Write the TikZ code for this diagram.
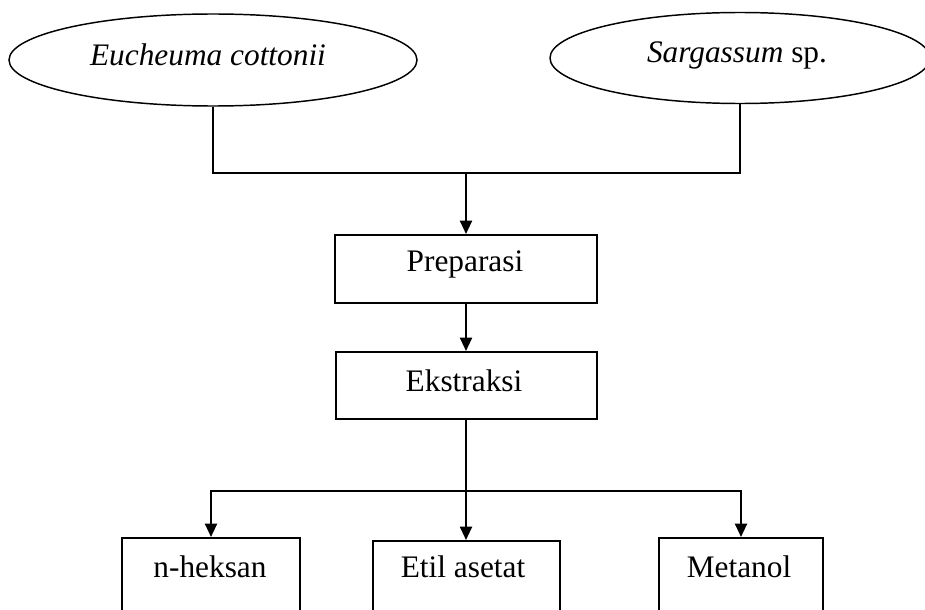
\documentclass[tikz,border=0pt]{standalone}
\usepackage{fontspec}
\setmainfont{Liberation Serif}
\usetikzlibrary{shapes.geometric,arrows.meta}
\begin{document}
\begin{tikzpicture}[x=0.75pt,y=-0.75pt,
  txt/.style={font=\fontsize{23.5}{28}\selectfont,inner sep=0pt,anchor=base},
  oval/.style={draw,ellipse,line width=1.1pt,inner sep=0pt},
  box/.style={draw,rectangle,line width=1.5pt,inner sep=0pt},
  conn/.style={line width=1.5pt},
  arr/.style={conn,-{Triangle[width=9pt,length=10pt]}}]
\useasboundingbox (0,0) rectangle (925,610);
\clip (0,0) rectangle (925,610);
% top ellipses
\node[oval, minimum width=306pt, minimum height=69pt] (ec) at (213,60) {};
\node[oval, minimum width=285pt, minimum height=68.25pt] (sg) at (740,58) {};
\node[txt] (ect) at (208,65) {\itshape Eucheuma cottonii};
\node[txt] (sgt) at (737,63) {\textit{Sargassum} sp.};
% process boxes
\node[box, minimum width=196.5pt, minimum height=51pt] (prep) at (466,269) {};
\node[txt] (prept) at (465,271) {Preparasi};
\node[box, minimum width=195.75pt, minimum height=50.25pt] (eks) at (466,385.5) {};
\node[txt] (ekst) at (464,391) {Ekstraksi};
% bottom boxes
\node[box, minimum width=133.5pt, minimum height=84pt] (nh) at (211,594) {};
\node[txt] (nht) at (210,577) {n-heksan};
\node[box, minimum width=140.25pt, minimum height=81.75pt] (etil) at (466,595.5) {};
\node[txt] (etilt) at (463,577) {Etil asetat};
\node[box, minimum width=123pt, minimum height=84pt] (met) at (741,594) {};
\node[txt] (mett) at (739,577) {Metanol};
% junctions
\coordinate (j1) at (466,173);
\coordinate (j2) at (466,491);
% connectors
\draw[conn] (ec.south) |- (j1) -| (sg.south);
\draw[arr] (j1) -- (prep.north);
\draw[arr] (prep.south) -- (eks.north);
\draw[arr] (eks.south) -- (etil.north);
\draw[arr] (j2) -| (nh.north);
\draw[arr] (j2) -| (met.north);
\end{tikzpicture}
\end{document}
